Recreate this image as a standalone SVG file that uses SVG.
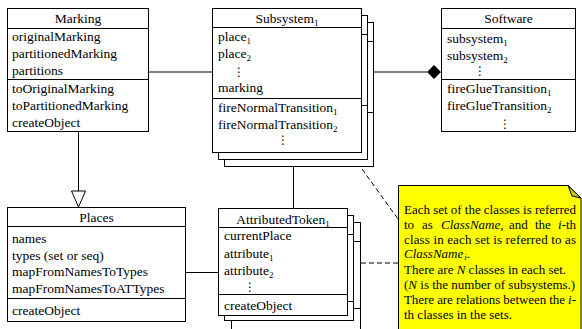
<svg xmlns="http://www.w3.org/2000/svg" width="582" height="329" viewBox="0 0 582 329">
<style>
.box{fill:#fff;stroke:#000;stroke-width:1}
.ln{stroke:#000;stroke-width:1;fill:none}
.dash{stroke:#000;stroke-width:1;fill:none;stroke-dasharray:5 3}
text{font-family:"Liberation Serif","Times New Roman",serif;font-size:13.5px;fill:#000}
.t{text-anchor:middle}
.dots{font-family:"DejaVu Serif","DejaVu Sans",serif;font-size:12px}
.note{font-size:13px}
.sub{font-size:9px}
</style>
<rect width="582" height="329" fill="#fff"/>
<g id="connectors">
<line class="ln" x1="148" y1="72" x2="212" y2="72"/>
<line class="ln" x1="374" y1="72" x2="427" y2="72"/>
<polygon points="441,72 434,65 427,72 434,79" fill="#000"/>
<line class="ln" x1="78.5" y1="131.5" x2="78.5" y2="191"/>
<polygon points="71.5,191 85.5,191 78.5,207" fill="#fff" stroke="#000"/>
<line class="ln" x1="185.5" y1="272.5" x2="218.5" y2="272.5"/>
<line class="ln" x1="293.5" y1="167" x2="293.5" y2="208.5"/>
<line class="dash" x1="361" y1="263" x2="398" y2="263"/>
<line class="dash" x1="362" y1="169" x2="398" y2="219"/>
</g>
<g id="Marking">
<rect class="box" x="7.5" y="8.5" width="141" height="123"/>
<line class="ln" x1="7.5" y1="28.5" x2="148.5" y2="28.5"/>
<line class="ln" x1="7.5" y1="79.5" x2="148.5" y2="79.5"/>
<text class="t" x="78" y="23">Marking</text>
<text x="12" y="41">originalMarking</text>
<text x="12" y="58">partitionedMarking</text>
<text x="12" y="75">partitions</text>
<text x="12" y="93">toOriginalMarking</text>
<text x="12" y="110">toPartitionedMarking</text>
<text x="12" y="127">createObject</text>
</g>
<g id="Subsystem">
<rect class="box" x="224.5" y="22.5" width="149" height="144"/>
<line class="ln" x1="224.5" y1="41.5" x2="373.5" y2="41.5"/>
<line class="ln" x1="224.5" y1="112.5" x2="373.5" y2="112.5"/>
<rect class="box" x="218.5" y="15.5" width="149" height="144"/>
<line class="ln" x1="218.5" y1="34.5" x2="367.5" y2="34.5"/>
<line class="ln" x1="218.5" y1="105.5" x2="367.5" y2="105.5"/>
<rect class="box" x="212.5" y="8.5" width="149" height="144"/>
<line class="ln" x1="212.5" y1="27.5" x2="361.5" y2="27.5"/>
<line class="ln" x1="212.5" y1="98.5" x2="361.5" y2="98.5"/>
<text class="t" x="287" y="23">Subsystem<tspan class="sub" dy="3">1</tspan></text>
<text x="218" y="41">place<tspan class="sub" dy="3">1</tspan></text>
<text x="218" y="58">place<tspan class="sub" dy="3">2</tspan></text>
<text class="dots" x="233" y="76">⋮</text>
<text x="218" y="92">marking</text>
<text x="218" y="111.5">fireNormalTransition<tspan class="sub" dy="3">1</tspan></text>
<text x="218" y="128.5">fireNormalTransition<tspan class="sub" dy="3">2</tspan></text>
<text class="dots" x="277" y="144">⋮</text>
</g>
<g id="Software">
<rect class="box" x="441.5" y="8.5" width="134" height="123"/>
<line class="ln" x1="441.5" y1="28.5" x2="575.5" y2="28.5"/>
<line class="ln" x1="441.5" y1="79.5" x2="575.5" y2="79.5"/>
<text class="t" x="508.5" y="23">Software</text>
<text x="447" y="43">subsystem<tspan class="sub" dy="3">1</tspan></text>
<text x="447" y="60">subsystem<tspan class="sub" dy="3">2</tspan></text>
<text class="dots" x="474" y="75">⋮</text>
<text x="447" y="93">fireGlueTransition<tspan class="sub" dy="3">1</tspan></text>
<text x="447" y="110">fireGlueTransition<tspan class="sub" dy="3">2</tspan></text>
<text class="dots" x="499" y="128">⋮</text>
</g>
<g id="Places">
<rect class="box" x="7.5" y="207.5" width="178" height="114"/>
<line class="ln" x1="7.5" y1="226.5" x2="185.5" y2="226.5"/>
<line class="ln" x1="7.5" y1="298.5" x2="185.5" y2="298.5"/>
<text class="t" x="96.5" y="222">Places</text>
<text x="12" y="243">names</text>
<text x="12" y="259.5">types (set or seq)</text>
<text x="12" y="276">mapFromNamesToTypes</text>
<text x="12" y="293">mapFromNamesToATTypes</text>
<text x="12" y="315">createObject</text>
</g>
<g id="AttributedToken">
<rect class="box" x="231.5" y="222.5" width="129" height="120"/>
<line class="ln" x1="231.5" y1="241.5" x2="360.5" y2="241.5"/>
<line class="ln" x1="231.5" y1="308.5" x2="360.5" y2="308.5"/>
<rect class="box" x="224.5" y="215.5" width="129" height="105"/>
<line class="ln" x1="224.5" y1="234.5" x2="353.5" y2="234.5"/>
<line class="ln" x1="224.5" y1="301.5" x2="353.5" y2="301.5"/>
<rect class="box" x="218.5" y="208.5" width="129" height="107"/>
<line class="ln" x1="218.5" y1="227.5" x2="347.5" y2="227.5"/>
<line class="ln" x1="218.5" y1="294.5" x2="347.5" y2="294.5"/>
<text class="t" x="283" y="223.5">AttributedToken<tspan class="sub" dy="3">1</tspan></text>
<text x="224" y="240">currentPlace</text>
<text x="224" y="257.5">attribute<tspan class="sub" dy="3">1</tspan></text>
<text x="224" y="274.5">attribute<tspan class="sub" dy="3">2</tspan></text>
<text class="dots" x="244" y="291">⋮</text>
<text x="224" y="310">createObject</text>
</g>
<g id="Note">
<path d="M398.5,185.5 H568 L581,198 V340 H398.5 Z" fill="#ffff00" stroke="#000"/>
<polygon points="568,185.5 572,196 581,198" fill="#c8c800" stroke="#000"/>
<text class="note" x="404" y="214" textLength="172" lengthAdjust="spacing">Each set of the classes is referred</text>
<text class="note" y="229"><tspan x="404">to</tspan><tspan x="422">as</tspan><tspan x="441" font-style="italic">ClassName</tspan><tspan>,</tspan><tspan x="509">and</tspan><tspan x="535">the</tspan><tspan x="558" font-style="italic">i</tspan><tspan>-th</tspan></text>
<text class="note" x="404" y="244" textLength="172" lengthAdjust="spacing">class in each set is referred to as</text>
<text class="note" x="404" y="258"><tspan font-style="italic">ClassName</tspan><tspan font-style="italic" class="sub" dx="1" dy="2">i</tspan><tspan dy="-2">.</tspan></text>
<text class="note" x="404" y="274">There are <tspan font-style="italic">N</tspan> classes in each set.</text>
<text class="note" x="404" y="289">(<tspan font-style="italic">N</tspan> is the number of subsystems.)</text>
<text class="note" x="404" y="304" textLength="172" lengthAdjust="spacing">There are relations between the <tspan font-style="italic">i</tspan>-</text>
<text class="note" x="404" y="319">th classes in the sets.</text>
</g>
</svg>
